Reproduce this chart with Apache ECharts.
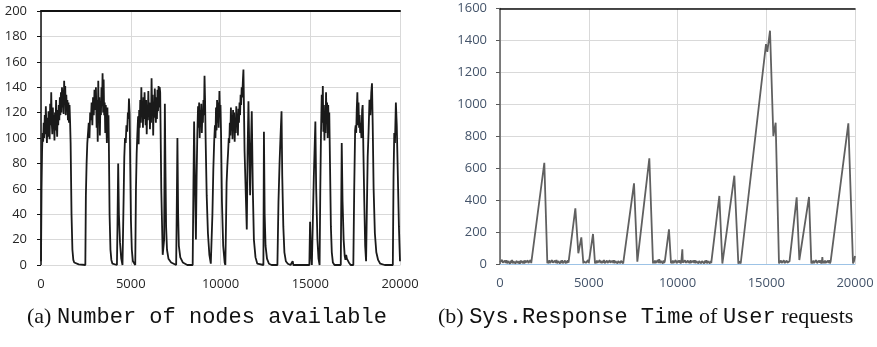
<!DOCTYPE html>
<html>
<head>
<meta charset="utf-8">
<script src="https://cdn.jsdelivr.net/npm/echarts@6/dist/echarts.min.js"></script>
<style>
  html, body { margin: 0; padding: 0; background: #fff; }
  #chart { width: 877px; height: 347px; }
</style>
</head>
<body>
<div id="chart"></div>
<script>
// Time axis (simulation steps) shared by both panels
const timeTicks = { min: 0, max: 20000, interval: 5000 };
const nodeTicks = { min: 0, max: 200, interval: 20 };
const responseTicks = { min: 0, max: 1600, interval: 200 };

// (a) number of nodes available: [step, nodes]
const nodesAvailable = [
  [0,3],[30,60],[60,90],[90,104],[120,97],[150,112],[180,100],[210,118],[240,103],[270,125],
  [300,108],[330,96],[360,116],[390,101],[420,121],[450,107],[480,99],[510,127],[540,110],[570,136],
  [600,112],[630,103],[660,124],[690,108],[720,118],[750,98],[780,120],[810,106],[840,130],[870,112],
  [900,101],[930,122],[960,110],[990,126],[1020,114],[1050,132],[1080,118],[1110,136],[1140,120],[1170,140],
  [1200,124],[1230,138],[1260,119],[1290,145],[1320,126],[1350,141],[1380,118],[1410,134],[1440,122],[1470,130],
  [1500,114],[1530,128],[1560,112],[1590,126],[1620,113],[1650,96],[1700,40],[1750,12],[1800,4],[1850,2],
  [1950,1],[2100,0.5],[2470,0],
  [2500,55],[2540,80],[2580,96],[2620,104],[2660,112],[2700,100],[2740,120],[2780,114],[2820,128],[2860,110],
  [2900,132],[2940,118],[2980,138],[3020,122],[3060,140],[3100,108],[3130,130],[3160,97],[3190,145],[3220,112],
  [3250,132],[3280,102],[3310,128],[3340,118],[3370,140],[3400,125],[3430,151],[3460,120],[3490,146],[3520,118],
  [3550,128],[3580,104],[3610,126],[3640,112],[3670,96],[3700,124],[3730,100],[3760,118],[3780,96],[3820,40],
  [3870,12],[3920,4],[3980,1],[4230,0],
  [4260,30],[4300,80],[4340,40],[4400,18],[4470,5],[4540,0],
  [4570,0],[4600,50],[4640,85],[4680,100],[4720,96],[4760,110],[4800,105],[4840,120],[4870,115],[4900,131],
  [4940,118],[4970,80],[5010,35],[5060,12],[5120,3],[5250,0],
  [5290,60],[5330,88],[5370,104],[5410,117],[5440,95],[5470,122],[5500,108],[5530,130],[5560,112],[5590,140],
  [5620,118],[5650,126],[5680,108],[5710,132],[5740,115],[5770,136],[5800,120],[5830,110],[5860,130],[5890,103],
  [5920,126],[5950,114],[5980,137],[6010,117],[6040,128],[6070,107],[6100,124],[6130,112],[6160,147],[6190,120],
  [6220,134],[6250,102],[6280,128],[6310,116],[6340,139],[6370,122],[6400,112],[6430,132],[6460,115],[6490,138],
  [6520,121],[6550,141],[6580,124],[6610,140],[6640,136],[6700,60],[6780,8],[6860,20],[6900,127],[6930,80],
  [6970,30],[7020,12],[7100,5],[7250,2],[7530,0],
  [7560,40],[7600,100],[7640,40],[7680,15],[7760,6],[7900,2],[8150,0],[8450,0],
  [8490,60],[8530,113],[8570,70],[8630,20],[8670,70],[8710,104],[8750,125],[8780,108],[8810,128],[8840,100],
  [8870,122],[8900,110],[8930,127],[8960,104],[8990,120],[9020,112],[9050,130],[9080,118],[9110,149],[9140,130],
  [9170,100],[9230,55],[9300,25],[9380,8],[9460,1],[9500,0],
  [9550,40],[9600,75],[9650,98],[9690,110],[9720,100],[9750,124],[9780,106],[9810,130],[9840,112],[9870,128],
  [9900,108],[9940,137],[9970,118],[10000,126],[10030,104],[10080,50],[10150,15],[10230,2],[10270,0],
  [10310,35],[10340,65],[10380,78],[10420,88],[10460,100],[10490,96],[10520,112],[10550,102],[10580,124],[10610,106],
  [10640,118],[10670,99],[10700,122],[10730,108],[10760,120],[10790,97],[10820,116],[10850,104],[10880,125],[10910,110],
  [10940,119],[10970,102],[11000,123],[11030,112],[11060,128],[11090,118],[11120,134],[11150,126],[11180,140],[11210,132],
  [11250,146],[11278,154],[11340,90],[11464,28],[11510,90],[11557,129],[11600,95],[11650,55],[11700,95],[11742,121],
  [11800,60],[11860,20],[11950,6],[12050,1],[12390,0],
  [12420,105],[12460,40],[12510,15],[12590,5],[12700,1],[12850,0],[13170,0],
  [13230,50],[13290,80],[13340,100],[13400,121],[13440,70],[13500,30],[13560,10],[13640,3],[13750,1],[13900,0],
  [14020,3],[14060,0],[14950,0],
  [14990,34],[15040,8],[15090,0],[15120,0],[15200,70],[15285,113],[15330,60],[15400,20],[15460,5],[15520,0],
  [15560,60],[15600,105],[15640,134],[15670,112],[15700,141],[15730,105],[15760,126],[15790,98],[15820,120],[15850,104],
  [15880,136],[15910,112],[15940,128],[15970,100],[16000,126],[16030,110],[16060,120],[16100,80],[16150,30],[16200,10],
  [16260,2],[16350,0],[16700,0],
  [16754,96],[16800,50],[16860,20],[16920,7],[16960,4],[17000,8],[17040,5],[17080,6],[17150,2],[17250,0],[17400,0],
  [17450,60],[17500,106],[17530,110],[17560,104],[17590,122],[17625,136],[17660,110],[17690,128],[17720,108],[17750,118],
  [17780,104],[17810,112],[17850,100],[17890,122],[17920,126],[17960,90],[18010,50],[18060,15],[18110,3],
  [18150,40],[18200,85],[18250,105],[18300,130],[18350,118],[18400,136],[18440,143],[18480,110],[18530,60],[18600,25],
  [18680,10],[18780,4],[18900,1],[19150,0],[19600,0],
  [19640,70],[19680,104],[19720,96],[19770,128],[19820,110],[19880,70],[19940,30],[20000,3]
];

// (b) system response time of user requests: [step, response time]
const responseTime = [
  [0,12],[40,22],[80,5],[120,25],[160,8],[200,19],[240,3],[280,21],[320,7],[360,24],
  [400,4],[440,18],[480,9],[520,23],[560,2],[600,20],[640,6],[680,25],[720,4],[760,17],
  [800,8],[840,22],[880,3],[920,19],[960,7],[1000,24],[1040,5],[1080,18],[1120,2],[1160,21],
  [1200,9],[1240,30],[1280,6],[1320,20],[1360,3],[1400,23],[1440,8],[1480,18],[1520,4],[1560,22],
  [1600,7],[1640,19],[1680,3],[1720,24],[1760,6],[1790,15],
  [2497,634],[2666,5],
  [2700,18],[2740,4],[2780,23],[2820,7],[2860,19],[2900,3],[2940,24],[2980,8],[3020,17],[3060,2],
  [3100,21],[3140,6],[3180,25],[3220,4],[3260,18],[3300,9],[3340,22],[3380,3],[3420,20],[3460,7],
  [3500,24],[3540,5],[3580,17],[3620,8],[3660,22],[3700,3],[3740,19],[3780,6],[3820,23],[3860,8],
  [3890,15],[4245,349],[4413,67],[4582,167],[4695,4],
  [4720,17],[4760,5],[4800,22],[4840,7],[4880,19],[4920,3],[4960,24],[5000,6],[5040,18],[5080,8],
  [5240,188],[5352,3],
  [5380,20],[5420,4],[5460,22],[5500,8],[5540,18],[5580,3],[5620,24],[5660,6],[5700,19],[5740,4],
  [5780,21],[5820,8],[5860,25],[5900,5],[5940,17],[5980,3],[6020,22],[6060,7],[6100,19],[6140,4],
  [6180,23],[6220,8],[6260,18],[6300,2],[6340,21],[6380,6],[6420,24],[6460,4],[6500,19],[6540,8],
  [6580,22],[6620,3],[6660,18],[6700,7],[6740,24],[6780,5],[6820,20],[6860,8],[6900,17],[6940,4],
  [6980,15],[7005,6],[7550,505],[7737,15],[8413,662],[8620,4],
  [8650,18],[8690,5],[8730,22],[8770,7],[8810,19],[8850,3],[8890,24],[8930,6],[8970,30],[9010,5],
  [9050,20],[9090,8],[9130,18],[9170,3],[9210,22],[9250,6],[9290,19],[9330,8],
  [9520,217],[9634,5],
  [9660,18],[9700,4],[9740,22],[9780,7],[9820,19],[9860,3],[9900,24],[9940,6],[9980,18],[10020,4],
  [10060,21],[10100,8],[10140,23],[10180,3],[10220,19],[10250,8],[10272,92],[10300,8],[10340,20],[10380,4],
  [10420,23],[10460,7],[10500,18],[10540,3],[10580,22],[10620,6],[10660,19],[10700,4],[10740,24],[10780,8],
  [10820,17],[10860,3],[10900,21],[10940,7],[10980,23],[11020,4],[11060,19],[11100,8],[11140,22],[11180,3],
  [11220,18],[11260,6],[11300,25],[11340,4],[11380,19],[11420,8],[11460,22],[11500,3],[11540,20],[11580,7],
  [11620,24],[11660,4],[11700,18],[11740,8],[11780,21],[11820,3],[11860,19],[11900,6],
  [11926,10],[12357,426],[12527,3],[12555,14],[12582,5],[13202,553],[13428,2],[13460,16],[13490,5],[13530,14],[13560,3],
  [14986,1377],[15060,1329],[15212,1461],[15400,801],[15530,885],[15718,4],
  [15750,16],[15790,4],[15830,22],[15870,7],[15910,19],[15950,3],[15990,23],[16030,6],[16070,18],[16110,4],
  [16150,21],[16190,8],[16230,19],[16270,3],[16310,17],[16338,6],
  [16714,417],[16864,25],[17409,420],[17540,4],
  [17580,18],[17620,4],[17660,22],[17700,7],[17740,19],[17780,3],[17820,24],[17860,6],[17900,18],[17940,4],
  [17980,21],[18020,8],[18060,23],[18100,3],[18140,20],[18160,44],[18190,5],[18230,19],[18270,4],[18310,22],
  [18350,7],[18390,18],[18430,3],[18470,21],[18510,6],[18550,24],[18590,4],[18630,18],[18670,7],[18710,15],
  [19625,881],[19888,3],[19950,20],[20000,50]
];

const captionA = [
  { style: 'serif', text: '(a) ' },
  { style: 'mono', text: 'Number of nodes available' }
];
const captionB = [
  { style: 'serif', text: '(b) ' },
  { style: 'mono', text: 'Sys.Response Time' },
  { style: 'serif', text: ' of ' },
  { style: 'mono', text: 'User' },
  { style: 'serif', text: ' requests' }
];

const tickFont = '"Open Sans", "Noto Sans", sans-serif';
const gridColor = '#d9d9d9';
const plainNumber = v => String(v);

function richText(parts) {
  return parts.map(p => '{' + p.style + '|' + p.text + '}').join('');
}
const captionRich = {
  serif: { fontFamily: '"Liberation Serif", "DejaVu Serif", serif', fontSize: 22, fill: '#111' },
  mono: { fontFamily: '"Liberation Mono", "DejaVu Sans Mono", monospace', fontSize: 22, fill: '#111' }
};

function bottomAxis(gridIndex, labelColor, lineColor) {
  return {
    type: 'value', gridIndex, position: 'bottom',
    min: timeTicks.min, max: timeTicks.max, interval: timeTicks.interval,
    axisLine: { show: true, onZero: false, lineStyle: { color: lineColor, width: 1 } },
    axisTick: { show: false },
    axisLabel: { color: labelColor, fontFamily: tickFont, fontSize: 13, margin: 13, formatter: plainNumber },
    splitLine: { show: true, lineStyle: { color: gridColor, width: 1 } }
  };
}
function topAxis(gridIndex, width) {
  return {
    type: 'value', gridIndex, position: 'top',
    min: timeTicks.min, max: timeTicks.max,
    axisLine: { show: true, onZero: false, lineStyle: { color: '#111', width } },
    axisTick: { show: false }, axisLabel: { show: false }, splitLine: { show: false }
  };
}
function leftAxis(gridIndex, ticks, labelColor, lineColor, margin) {
  return {
    type: 'value', gridIndex,
    min: ticks.min, max: ticks.max, interval: ticks.interval,
    axisLine: { show: true, lineStyle: { color: lineColor, width: 1.5 } },
    axisTick: { show: true, inside: false, length: 4, lineStyle: { color: lineColor } },
    axisLabel: { color: labelColor, fontFamily: tickFont, fontSize: 13, margin, formatter: plainNumber },
    splitLine: { show: true, lineStyle: { color: gridColor, width: 1 } }
  };
}

const chart = echarts.init(document.getElementById('chart'), null, { renderer: 'canvas' });
chart.setOption({
  animation: false,
  backgroundColor: '#fff',
  grid: [
    { left: 41, right: 477, top: 11, bottom: 82 },
    { left: 500, right: 22, top: 8.5, bottom: 83 }
  ],
  xAxis: [
    bottomAxis(0, '#262626', gridColor),
    topAxis(0, 2),
    bottomAxis(1, '#44546a', '#9dc3e6'),
    topAxis(1, 1.5)
  ],
  yAxis: [
    leftAxis(0, nodeTicks, '#262626', '#111', 14),
    leftAxis(1, responseTicks, '#44546a', '#595959', 13)
  ],
  series: [
    {
      type: 'line', xAxisIndex: 0, yAxisIndex: 0, data: nodesAvailable,
      showSymbol: false, sampling: null, z: 3,
      lineStyle: { color: '#1a1a1a', width: 1.8 }
    },
    {
      type: 'line', xAxisIndex: 2, yAxisIndex: 1, data: responseTime,
      showSymbol: false, sampling: null, z: 3,
      lineStyle: { color: '#606060', width: 1.8 }
    }
  ],
  graphic: [
    { type: 'text', left: 27, top: 306, style: { text: richText(captionA), rich: captionRich } },
    { type: 'text', left: 438, top: 306, style: { text: richText(captionB), rich: captionRich } }
  ]
});
</script>
</body>
</html>
